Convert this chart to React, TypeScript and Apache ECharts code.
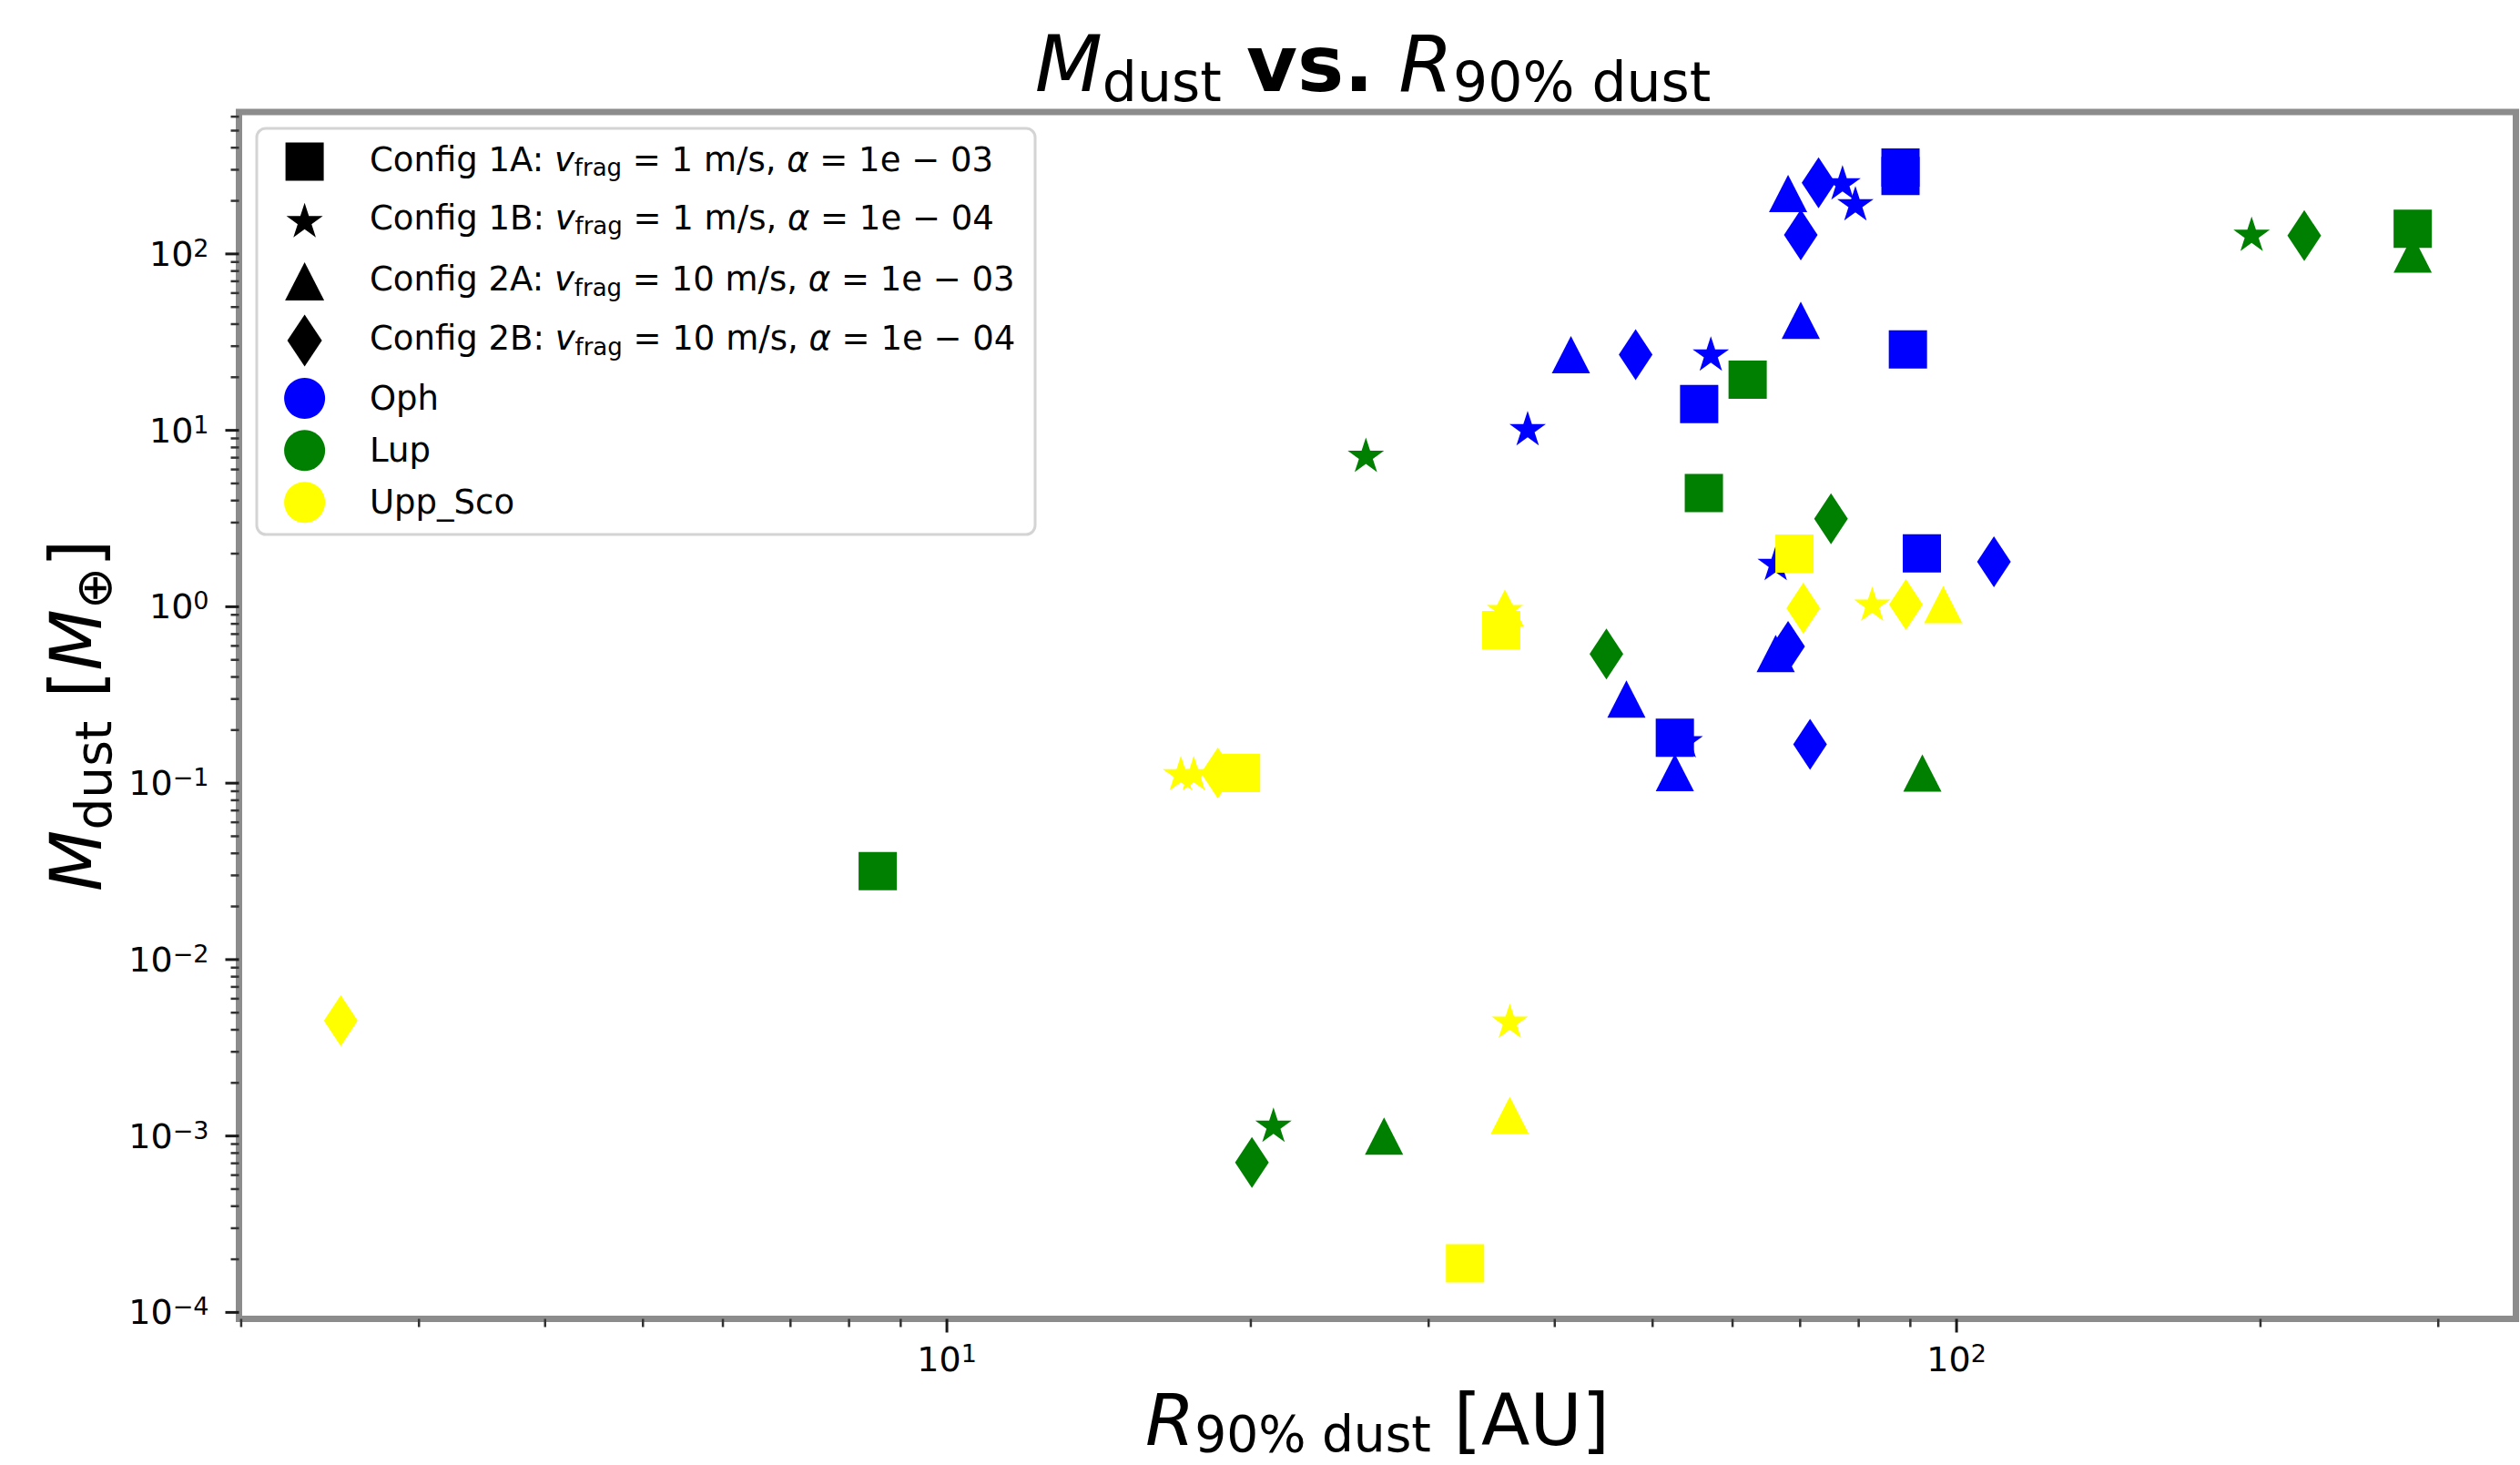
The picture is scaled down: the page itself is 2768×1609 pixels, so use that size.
import React, { useEffect, useRef } from 'react';
import * as echarts from 'echarts';

const FONT = "'DejaVu Sans', sans-serif";
const W = 2768;
const H = 1609;

// ---------- data ----------
const regions = ['Oph', 'Lup', 'Upp_Sco'];
const regionColors = ['#0000ff', '#008000', '#ffff00'];
const configIds = ['1A', '1B', '2A', '2B'];
const configVfrag = ['1', '1', '10', '10'];
const configAlpha = ['1e − 03', '1e − 04', '1e − 03', '1e − 04'];

// [R90% dust (AU), Mdust (M_earth)]
const ophSquare = [[88.0, 309], [88.0, 277], [89.5, 28.8], [55.6, 14.1], [92.4, 2.01], [52.6, 0.181]];
const ophStar = [[77.1, 255], [79.4, 194], [57.1, 27.3], [37.6, 10.3], [66.2, 1.77], [53.8, 0.175]];
const ophTriangle = [[68.1, 220], [70.1, 42.1], [41.5, 26.9], [66.2, 0.543], [47.1, 0.3], [52.6, 0.115]];
const ophDiamond = [[73.0, 253], [70.1, 128], [48.1, 26.9], [68.1, 0.596], [108.9, 1.8], [71.6, 0.166]];

const lupSquare = [[62.1, 19.4], [56.2, 4.41], [283, 139], [8.54, 0.0317]];
const lupStar = [[196, 130], [26.0, 7.26], [21.06, 0.00116]];
const lupTriangle = [[92.5, 0.114], [283, 100], [27.1, 0.001]];
const lupDiamond = [[75.1, 3.15], [45.0, 0.54], [221, 127], [20.05, 0.000708]];

const uppSquare = [[69.1, 2.0], [35.4, 0.738], [19.56, 0.114], [32.6, 0.00019]];
const uppStar = [[82.5, 1.04], [35.7, 0.97], [17.05, 0.114], [17.56, 0.114], [36.1, 0.00451]];
const uppTriangle = [[97.0, 1.03], [35.7, 0.98], [36.1, 0.00131]];
const uppDiamond = [[70.5, 0.981], [89.1, 1.03], [18.55, 0.114], [2.51, 0.00451]];

const dataByRegion: Record<string, Record<string, number[][]>> = {
  Oph: { '1A': ophSquare, '1B': ophStar, '2A': ophTriangle, '2B': ophDiamond },
  Lup: { '1A': lupSquare, '1B': lupStar, '2A': lupTriangle, '2B': lupDiamond },
  Upp_Sco: { '1A': uppSquare, '1B': uppStar, '2A': uppTriangle, '2B': uppDiamond },
};

// axis ranges and ticks
const X_MIN = 1.99;
const X_MAX = 358.1;
const Y_MIN = 9.19e-5;
const Y_MAX = 637.7;
const xMajorTicks = [10, 100];
const xMinorTicks = [2, 3, 4, 5, 6, 7, 8, 9, 20, 30, 40, 50, 60, 70, 80, 90, 200, 300];
const yMajorTicks = [1e-4, 1e-3, 1e-2, 1e-1, 1, 10, 100];
const yMinorTicks = [
  2e-4, 3e-4, 4e-4, 5e-4, 6e-4, 7e-4, 8e-4, 9e-4,
  2e-3, 3e-3, 4e-3, 5e-3, 6e-3, 7e-3, 8e-3, 9e-3,
  0.02, 0.03, 0.04, 0.05, 0.06, 0.07, 0.08, 0.09,
  0.2, 0.3, 0.4, 0.5, 0.6, 0.7, 0.8, 0.9,
  2, 3, 4, 5, 6, 7, 8, 9,
  20, 30, 40, 50, 60, 70, 80, 90,
  200, 300, 400, 500, 600,
];

// ---------- styling ----------
const STAR_PTS = [
  [0, -1], [0.2245, -0.309], [0.9511, -0.309], [0.3633, 0.118], [0.5878, 0.809],
  [0, 0.382], [-0.5878, 0.809], [-0.3633, 0.118], [-0.9511, -0.309], [-0.2245, -0.309],
];
const STAR_PATH = 'path://M' + STAR_PTS.map((p) => p[0] + ',' + p[1]).join('L') + 'Z';

const SHAPES: Record<string, { symbol: string; size: number[] }> = {
  '1A': { symbol: 'rect', size: [42, 42] },
  '1B': { symbol: STAR_PATH, size: [40, 38] },
  '2A': { symbol: 'triangle', size: [42, 41] },
  '2B': { symbol: 'diamond', size: [37, 56] },
};
const DRAW_ORDER = ['2B', '2A', '1B', '1A'];

function powLabel(v: number) {
  const l = Math.log10(v);
  const e = Math.round(l);
  if (Math.abs(l - e) > 1e-6) return '';
  const s = e < 0 ? '−' + -e : String(e);
  return '{b|10}{p|' + s + '}';
}

const tickRich = {
  b: { fontSize: 38, lineHeight: 40, fontFamily: FONT, color: '#000' },
  p: { fontSize: 27, lineHeight: 22, verticalAlign: 'top', fontFamily: FONT, color: '#000' },
};

function tickSeries(values: number[], axis: 'x' | 'y', len: number, width: number, color: string) {
  return {
    type: 'custom',
    coordinateSystem: 'cartesian2d',
    silent: true,
    clip: false,
    z: 6,
    data: values.map((v) => (axis === 'x' ? [v, Y_MIN] : [X_MIN, v])),
    renderItem: (_params: any, api: any) => {
      const p = api.coord([api.value(0), api.value(1)]);
      const shape =
        axis === 'x'
          ? { x1: p[0], y1: p[1], x2: p[0], y2: p[1] + len }
          : { x1: p[0], y1: p[1], x2: p[0] - len, y2: p[1] };
      return { type: 'line', shape, style: { stroke: color, lineWidth: width } };
    },
  };
}

function buildLegend() {
  const LX = 334.6;
  const TX = 406;
  const rowY = [177.5, 241.7, 309, 374, 437.5, 494.7, 551.7];
  const children: any[] = [
    {
      type: 'rect',
      shape: { x: 282, y: 141, width: 855, height: 446, r: 10 },
      style: { fill: '#ffffff', stroke: '#d4d4d4', lineWidth: 3 },
    },
  ];
  // config markers (black)
  children.push({
    type: 'rect',
    shape: { x: LX - 21, y: rowY[0] - 21, width: 42, height: 42 },
    style: { fill: '#000' },
  });
  children.push({
    type: 'polygon',
    shape: { points: STAR_PTS.map((p) => [LX + p[0] * 21, rowY[1] + (p[1] + 0.0955) * 21]) },
    style: { fill: '#000' },
  });
  children.push({
    type: 'polygon',
    shape: { points: [[LX, rowY[2] - 21], [LX + 21.5, rowY[2] + 21], [LX - 21.5, rowY[2] + 21]] },
    style: { fill: '#000' },
  });
  children.push({
    type: 'polygon',
    shape: { points: [[LX, rowY[3] - 28.5], [LX + 19, rowY[3]], [LX, rowY[3] + 28.5], [LX - 19, rowY[3]]] },
    style: { fill: '#000' },
  });
  const legendRich = {
    i: { fontSize: 37, fontStyle: 'italic', lineHeight: 41, fontFamily: FONT, color: '#000' },
    s: { fontSize: 26, lineHeight: 26, padding: [18, 0, 0, 0], fontFamily: FONT, color: '#000' },
  };
  configIds.forEach((id, k) => {
    children.push({
      type: 'text',
      x: TX,
      y: rowY[k] - 2.5,
      style: {
        text: 'Config ' + id + ': {i|v}{s|frag} = ' + configVfrag[k] + ' m/s, {i|α} = ' + configAlpha[k],
        fontSize: 37,
        fontFamily: FONT,
        lineHeight: 41,
        fill: '#000',
        align: 'left',
        verticalAlign: 'middle',
        rich: legendRich,
      },
    });
  });
  regions.forEach((r, k) => {
    children.push({
      type: 'circle',
      shape: { cx: LX, cy: rowY[4 + k], r: 22.5 },
      style: { fill: regionColors[k] },
    });
    children.push({
      type: 'text',
      x: TX,
      y: rowY[4 + k],
      style: {
        text: r,
        fontSize: 37,
        fontFamily: FONT,
        fill: '#000',
        align: 'left',
        verticalAlign: 'middle',
      },
    });
  });
  return { type: 'group', z: 20, children };
}

export default function App() {
  const ref = useRef<HTMLDivElement>(null);
  useEffect(() => {
    if (!ref.current) return;
    const chart = echarts.init(ref.current, undefined, { renderer: 'svg', width: W, height: H });

    const scatterSeries: any[] = [];
    regions.forEach((r, ri) => {
      DRAW_ORDER.forEach((cid) => {
        scatterSeries.push({
          type: 'scatter',
          name: r + ' Config ' + cid,
          data: dataByRegion[r][cid],
          symbol: SHAPES[cid].symbol,
          symbolSize: SHAPES[cid].size,
          itemStyle: { color: regionColors[ri], opacity: 1 },
          z: 3,
        });
      });
    });

    const nameRich = {
      m: { fontSize: 78, fontStyle: 'italic', lineHeight: 78, fontFamily: FONT, color: '#000' },
      s: { fontSize: 55, lineHeight: 38, padding: [37, 0, 0, 0], fontFamily: FONT, color: '#000' },
      t: { fontSize: 78, lineHeight: 78, fontFamily: FONT, color: '#000' },
    };
    const xNameRich = {
      m: { fontSize: 78, fontStyle: 'italic', lineHeight: 78, fontFamily: FONT, color: '#000' },
      s: { fontSize: 55, lineHeight: 38, padding: [30, 0, 0, 0], fontFamily: FONT, color: '#000' },
      t: { fontSize: 78, lineHeight: 78, fontFamily: FONT, color: '#000' },
    };

    const option: any = {
      animation: false,
      backgroundColor: '#ffffff',
      grid: {
        left: 262.5,
        top: 123,
        width: 2501,
        height: 1325.5,
        show: true,
        borderColor: '#8c8c8c',
        borderWidth: 7,
        backgroundColor: 'transparent',
        containLabel: false,
        outerBoundsMode: 'none',
      },
      xAxis: {
        type: 'log',
        logBase: 10,
        min: X_MIN,
        max: X_MAX,
        axisLine: { show: false },
        axisTick: { show: false },
        minorTick: { show: false },
        splitLine: { show: false },
        axisLabel: { formatter: powLabel, margin: 24, rich: tickRich, color: '#000' },
        name: '{m|R}{s|90% dust}{t| [AU]}',
        nameLocation: 'middle',
        nameGap: 111,
        nameTextStyle: { fontSize: 78, lineHeight: 78, fontFamily: FONT, color: '#000', verticalAlign: 'middle', rich: xNameRich },
      },
      yAxis: {
        type: 'log',
        logBase: 10,
        min: Y_MIN,
        max: Y_MAX,
        axisLine: { show: false },
        axisTick: { show: false },
        minorTick: { show: false },
        splitLine: { show: false },
        axisLabel: { formatter: powLabel, margin: 33, rich: tickRich, color: '#000' },
        name: '{m|M}{s|dust}{t| [}{m|M}{s|⊕}{t|]}',
        nameLocation: 'middle',
        nameRotate: 90,
        nameGap: 178,
        nameTextStyle: { fontSize: 78, lineHeight: 78, fontFamily: FONT, color: '#000', verticalAlign: 'middle', rich: nameRich },
      },
      series: [
        ...scatterSeries,
        tickSeries(xMajorTicks, 'x', 15, 3, '#1a1a1a'),
        tickSeries(xMinorTicks, 'x', 9, 2.5, '#333'),
        tickSeries(yMajorTicks, 'y', 15, 3, '#1a1a1a'),
        tickSeries(yMinorTicks, 'y', 9, 2.5, '#333'),
      ],
      graphic: [
        {
          type: 'text',
          x: 1508,
          y: 70,
          z: 20,
          style: {
            text: '{m|M}{s|dust} {b|vs.} {m|R}{s|90% dust}',
            fontSize: 86,
            fontFamily: FONT,
            fill: '#000',
            align: 'center',
            verticalAlign: 'middle',
            rich: {
              m: { fontSize: 86, fontStyle: 'italic', lineHeight: 100, fontFamily: FONT, color: '#000' },
              s: { fontSize: 60, lineHeight: 60, padding: [40, 0, 0, 0], fontFamily: FONT, color: '#000' },
              b: { fontSize: 86, fontWeight: 'bold', lineHeight: 100, fontFamily: FONT, color: '#000' },
            },
          },
        },
        buildLegend(),
      ],
    };
    chart.setOption(option);
    return () => chart.dispose();
  }, []);
  return <div ref={ref} style={{ position: 'absolute', left: 0, top: 0, width: W, height: H, background: '#fff' }} />;
}
